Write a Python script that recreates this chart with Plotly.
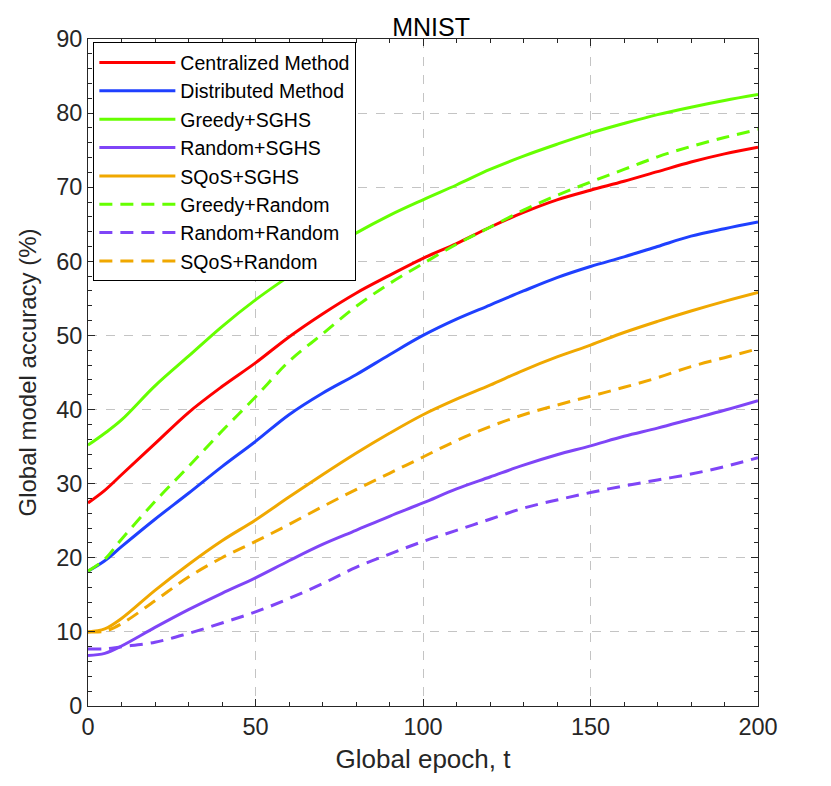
import plotly.graph_objects as go

epochs = [0, 5, 10, 20, 30, 40, 50, 60, 70, 80, 90, 100,
          110, 120, 130, 140, 150, 160, 170, 180, 190, 200]

centralized = [27.4, 29.1, 31.2, 35.4, 39.6, 43.1, 46.3, 49.8, 52.9, 55.7, 58.1, 60.4,
               62.4, 64.6, 66.6, 68.3, 69.6, 70.8, 72.1, 73.4, 74.5, 75.4]
distributed = [18.2, 19.6, 21.5, 25.2, 28.7, 32.3, 35.7, 39.3, 42.2, 44.7, 47.4, 50.0,
               52.2, 54.1, 56.0, 57.8, 59.3, 60.6, 62.0, 63.4, 64.4, 65.3]
greedy_sghs = [35.2, 36.8, 38.6, 43.2, 47.2, 51.2, 54.8, 58.0, 61.1, 63.8, 66.2, 68.3,
               70.3, 72.4, 74.2, 75.8, 77.3, 78.6, 79.8, 80.8, 81.7, 82.5]
random_sghs = [6.8, 7.1, 8.1, 10.6, 13.0, 15.2, 17.3, 19.6, 21.8, 23.7, 25.6, 27.4,
               29.3, 30.9, 32.5, 33.9, 35.1, 36.4, 37.5, 38.7, 39.9, 41.2]
sqos_sghs = [10.0, 10.4, 11.8, 15.6, 19.1, 22.3, 25.1, 28.2, 31.2, 34.1, 36.8, 39.3,
             41.4, 43.3, 45.3, 47.1, 48.7, 50.4, 51.9, 53.3, 54.6, 55.8]
greedy_random = [18.2, 19.8, 22.5, 27.6, 32.3, 37.1, 41.7, 46.5, 50.2, 53.9, 57.0, 59.7,
                 62.3, 64.6, 66.9, 68.9, 70.7, 72.4, 74.1, 75.5, 76.7, 77.8]
random_random = [7.7, 7.7, 8.0, 8.6, 9.8, 11.2, 12.7, 14.5, 16.5, 18.7, 20.5, 22.2,
                 23.7, 25.2, 26.7, 27.8, 28.8, 29.7, 30.5, 31.3, 32.3, 33.5]
sqos_random = [10.0, 10.1, 11.1, 14.2, 17.4, 20.0, 22.2, 24.5, 26.9, 29.2, 31.4, 33.6,
               35.8, 37.7, 39.3, 40.6, 41.8, 43.0, 44.3, 45.8, 47.0, 48.2]

series = [
    ("Centralized Method", centralized, "#ff0000", "solid"),
    ("Distributed Method", distributed, "#1f40ff", "solid"),
    ("Greedy+SGHS", greedy_sghs, "#66ff00", "solid"),
    ("Random+SGHS", random_sghs, "#7f45f7", "solid"),
    ("SQoS+SGHS", sqos_sghs, "#f0a800", "solid"),
    ("Greedy+Random", greedy_random, "#66ff00", "13px,8px"),
    ("Random+Random", random_random, "#7f45f7", "13px,8px"),
    ("SQoS+Random", sqos_random, "#f0a800", "13px,8px"),
]

fig = go.Figure()
for name, vals, color, dash in series:
    fig.add_trace(go.Scatter(x=epochs, y=vals, mode="lines", name=name,
                             line=dict(color=color, width=3, dash=dash, shape="spline")))

axis_common = dict(
    showline=True, linecolor="#262626", linewidth=1, mirror="allticks",
    ticks="inside", ticklen=7, tickcolor="#262626",
    showgrid=True, gridcolor="#c4c4c4", griddash="dash", gridwidth=1,
    zeroline=False, tickfont=dict(size=23.5, color="#262626"),
)

fig.update_xaxes(range=[0, 200], dtick=50, tick0=0,
                 minor=dict(dtick=10, ticks="inside", ticklen=4, tickcolor="#262626", showgrid=False),
                 title=dict(text="Global epoch, t", font=dict(size=26, color="#262626"), standoff=10),
                 **axis_common)
fig.update_yaxes(range=[0, 90], dtick=10, tick0=0,
                 minor=dict(dtick=2, ticks="inside", ticklen=4, tickcolor="#262626", showgrid=False),
                 title=dict(text="Global model accuracy (%)", font=dict(size=24, color="#262626"), standoff=12),
                 **axis_common)

fig.update_layout(
    width=823, height=778,
    margin=dict(l=80, r=73, t=31, b=80),
    plot_bgcolor="white", paper_bgcolor="white",
    font=dict(family="Liberation Sans, Arial, sans-serif", color="#262626"),
    title=dict(text="MNIST", x=0.512, xanchor="center", xref="paper",
               y=0.975, yanchor="middle",
               font=dict(size=25, color="#000000")),
    legend=dict(x=0.008, y=0.995, xanchor="left", yanchor="top",
                bgcolor="white", bordercolor="#000000", borderwidth=1,
                font=dict(size=19.5, color="#000000"), itemwidth=76,
                tracegroupgap=0),
    showlegend=True,
)

fig.write_html("out.html")
